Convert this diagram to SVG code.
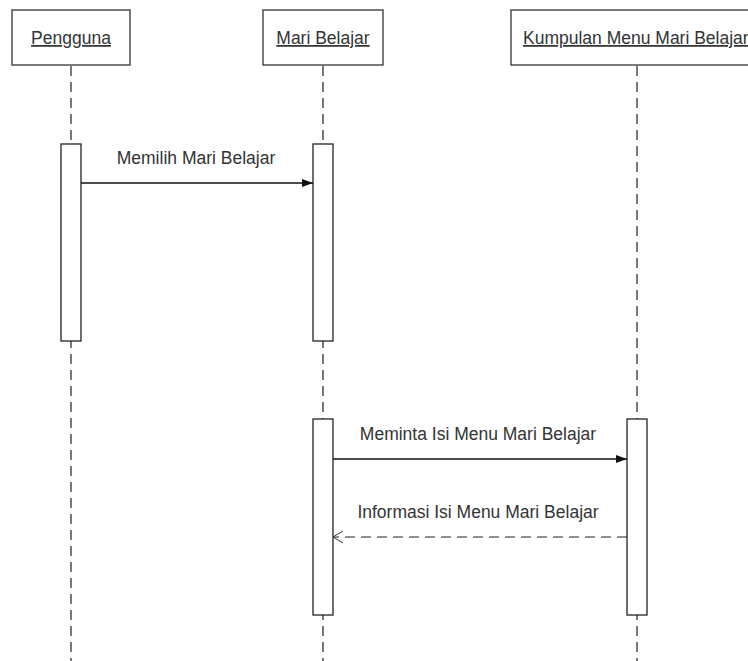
<svg xmlns="http://www.w3.org/2000/svg" width="748" height="661" viewBox="0 0 748 661">
  <style>
    .box { fill: #ffffff; stroke: #333333; stroke-width: 1.3; }
    .life { stroke: #333333; stroke-width: 1.3; stroke-dasharray: 10 6; fill: none; }
    .act { fill: #ffffff; stroke: #222222; stroke-width: 1.3; }
    .msg { stroke: #111111; stroke-width: 1.4; fill: none; }
    .ret { stroke: #222222; stroke-width: 1.2; stroke-dasharray: 10 6; fill: none; }
    text { font-family: "Liberation Sans", Arial, sans-serif; font-size: 17.5px; fill: #333333; }
    .title { text-decoration: underline; text-anchor: middle; }
    .lbl { text-anchor: middle; }
  </style>
  <defs>
    <marker id="solidHead" markerWidth="12" markerHeight="10" refX="11" refY="5" orient="auto" markerUnits="userSpaceOnUse">
      <path d="M0,1 L11,5 L0,9 Z" fill="#111111"/>
    </marker>
    <marker id="openHead" markerWidth="12" markerHeight="14" refX="11" refY="7" orient="auto" markerUnits="userSpaceOnUse">
      <path d="M1,1 L11,7 L1,13" fill="none" stroke="#333333" stroke-width="1"/>
    </marker>
  </defs>

  <!-- lifelines -->
  <g id="lifelines">
    <line class="life" x1="71" y1="66" x2="71" y2="661"/>
    <line class="life" x1="323" y1="66" x2="323" y2="661"/>
    <line class="life" x1="637" y1="66" x2="637" y2="661"/>
  </g>

  <g id="pengguna">
    <rect class="box" x="12" y="10" width="118" height="55"/>
    <text class="title" x="71" y="44">Pengguna</text>
  </g>

  <g id="mari-belajar">
    <rect class="box" x="263" y="10" width="120" height="55"/>
    <text class="title" x="323" y="44">Mari Belajar</text>
  </g>

  <g id="kumpulan-menu">
    <rect class="box" x="511" y="10" width="245" height="55"/>
    <text class="title" x="523" y="44" style="text-anchor:start">Kumpulan Menu Mari Belajar</text>
  </g>

  <!-- activation bars -->
  <g id="act-pengguna">
    <rect class="act" x="61" y="144" width="20" height="197"/>
  </g>
  <g id="act-mari-belajar-1">
    <rect class="act" x="313" y="144" width="20" height="197"/>
  </g>
  <g id="act-mari-belajar-2">
    <rect class="act" x="313" y="419" width="20" height="196"/>
  </g>
  <g id="act-kumpulan-menu">
    <rect class="act" x="627" y="419" width="20" height="196"/>
  </g>

  <!-- messages -->
  <g id="connectors">
    <line class="msg" x1="81" y1="183" x2="313" y2="183" marker-end="url(#solidHead)"/>
    <text class="lbl" x="196" y="164">Memilih Mari Belajar</text>

    <line class="msg" x1="333" y1="459" x2="627" y2="459" marker-end="url(#solidHead)"/>
    <text class="lbl" x="478" y="440">Meminta Isi Menu Mari Belajar</text>

    <line class="ret" x1="627" y1="537" x2="333" y2="537" marker-end="url(#openHead)"/>
    <text class="lbl" x="478" y="518">Informasi Isi Menu Mari Belajar</text>
  </g>
</svg>
